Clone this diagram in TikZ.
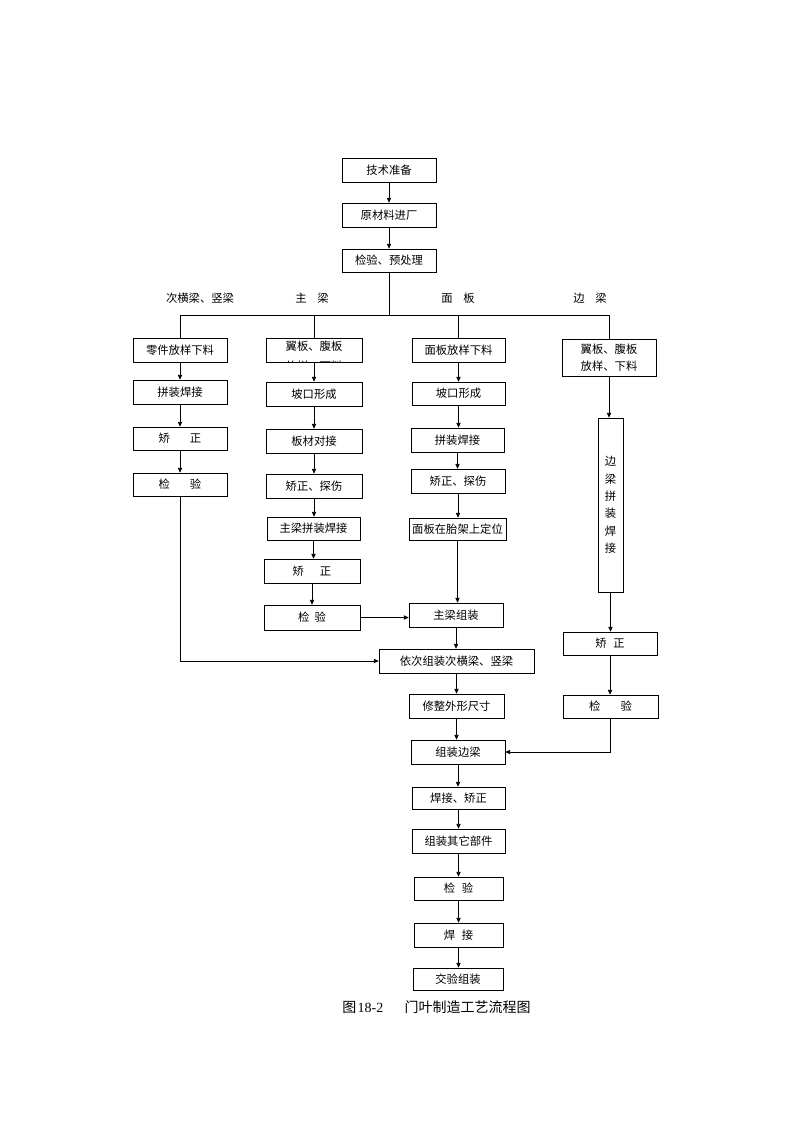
\documentclass[tikz,border=0pt]{standalone}
\usepackage{fontspec}
\setmainfont{Noto Sans CJK SC}
\newfontfamily\numfont{Liberation Serif}
\usetikzlibrary{fit,arrows.meta}
\tikzset{
  box/.style={draw=black, line width=0.6pt, inner sep=0pt, fill=white},
  lbl/.style={inner sep=0pt, font=\fontsize{8.5pt}{10pt}\selectfont},
  conn/.style={line width=0.6pt, draw=black},
  arr/.style={conn, -{Triangle[length=3.5pt,width=3.2pt]}}
}
\newcommand{\bx}[6]{\node[box, fit={(#2,#3) (#4,#5)}, label={[lbl]center:{#6}}] (#1) {};}
\begin{document}
\begin{tikzpicture}[x=0.75pt,y=-0.75pt]
\useasboundingbox (0,0) rectangle (794,1123);
% top column
\bx{t1}{342}{158}{436}{182}{技术准备}
\bx{t2}{342}{203}{436}{227}{原材料进厂}
\bx{t3}{342}{249}{436}{272}{检验、预处理}
% branch labels
\node[lbl] (l1) at (200,298) {次横梁、竖梁};
\node[lbl] (l2) at (312,298) {主\hspace{8pt}梁};
\node[lbl] (l3) at (458,298) {面\hspace{8pt}板};
\node[lbl] (l4) at (590,298) {边\hspace{8pt}梁};
% column 1
\bx{a1}{133}{338}{227}{362}{零件放样下料}
\bx{a2}{133}{380}{227}{404}{拼装焊接}
\bx{a3}{133}{427}{227}{450}{矫\hspace{15pt}正}
\bx{a4}{133}{473}{227}{496}{检\hspace{15pt}验}
% column 2
\node[box, fit={(266,338) (362,362)}] (b1) {};
\node[lbl] (b1t) at (314,346) {翼板、腹板};
\begin{scope}
\clip (266,338) rectangle (362,362);
\node[lbl] (b1u) at (314,366) {放样、下料};
\end{scope}
\bx{b2}{266}{382}{362}{406}{坡口形成}
\bx{b3}{266}{429}{362}{453}{板材对接}
\bx{b4}{266}{474}{362}{498}{矫正、探伤}
\bx{b5}{267}{517}{360}{540}{主梁拼装焊接}
\bx{b6}{264}{559}{360}{583}{矫\hspace{12pt}正}
\bx{b7}{264}{605}{360}{630}{检\hspace{4pt}验}
% column 3
\bx{c1}{412}{338}{505}{362}{面板放样下料}
\bx{c2}{412}{382}{505}{405}{坡口形成}
\bx{c3}{411}{428}{504}{452}{拼装焊接}
\bx{c4}{411}{469}{505}{493}{矫正、探伤}
\bx{c5}{409}{518}{506}{540}{面板在胎架上定位}
\bx{c6}{409}{603}{503}{627}{主梁组装}
% column 4
\node[box, fit={(562,339) (656,376)},
  label={[lbl, align=center, font=\fontsize{8.5pt}{13pt}\selectfont]center:{翼板、腹板\\放样、下料}}] (d1) {};
\node[box, fit={(598,418) (623,592)},
  label={[lbl, align=center, font=\fontsize{8.5pt}{13pt}\selectfont]center:{边\\梁\\拼\\装\\焊\\接}}] (d2) {};
\bx{d3}{563}{632}{657}{655}{矫\hspace{5pt}正}
\bx{d4}{563}{695}{658}{718}{检\hspace{15pt}验}
% main column
\bx{m1}{379}{649}{534}{673}{依次组装次横梁、竖梁}
\bx{m2}{409}{694}{504}{718}{修整外形尺寸}
\bx{m3}{411}{740}{505}{764}{组装边梁}
\bx{m4}{412}{787}{505}{809}{焊接、矫正}
\bx{m5}{412}{829}{505}{853}{组装其它部件}
\bx{m6}{414}{877}{503}{900}{检\hspace{5pt}验}
\bx{m7}{414}{923}{503}{947}{焊\hspace{5pt}接}
\bx{m8}{413}{968}{503}{990}{交验组装}
% caption
\node[inner sep=0pt, anchor=west, font=\fontsize{10.5pt}{12pt}\selectfont] (cap) at (342,1007)
  {图\hspace{1pt}{\numfont 18-2}\hspace{16pt}门叶制造工艺流程图};
% connectors: top
\draw[arr] (t1.south) -- (t1.south |- t2.north);
\draw[arr] (t2.south) -- (t2.south |- t3.north);
\coordinate (bar) at (389,315);
\draw[conn] (t3.south) -- (t3.south |- bar);
\draw[conn] (a1.north |- bar) -- (d1.north |- bar);
\draw[conn] (a1.north |- bar) -- (a1.north);
\draw[conn] (b1.north |- bar) -- (b1.north);
\draw[conn] (c1.north |- bar) -- (c1.north);
\draw[conn] (d1.north |- bar) -- (d1.north);
% column 1
\draw[arr] (a1.south) -- (a1.south |- a2.north);
\draw[arr] (a2.south) -- (a2.south |- a3.north);
\draw[arr] (a3.south) -- (a3.south |- a4.north);
\draw[arr] (a4.south) |- (m1.west);
% column 2
\draw[arr] (b1.south) -- (b1.south |- b2.north);
\draw[arr] (b2.south) -- (b2.south |- b3.north);
\draw[arr] (b3.south) -- (b3.south |- b4.north);
\draw[arr] (b4.south) -- (b4.south |- b5.north);
\draw[arr] (b5.south) -- (b5.south |- b6.north);
\draw[arr] (b6.south) -- (b6.south |- b7.north);
\draw[arr] (b7.east) -- (b7.east -| c6.west);
% column 3
\draw[arr] (c1.south) -- (c1.south |- c2.north);
\draw[arr] (c2.south) -- (c2.south |- c3.north);
\draw[arr] (c3.south) -- (c3.south |- c4.north);
\draw[arr] (c4.south) -- (c4.south |- c5.north);
\draw[arr] (c5.south) -- (c5.south |- c6.north);
\draw[arr] (c6.south) -- (c6.south |- m1.north);
% column 4
\draw[arr] (d1.south) -- (d1.south |- d2.north);
\draw[arr] (d2.south) -- (d2.south |- d3.north);
\draw[arr] (d3.south) -- (d3.south |- d4.north);
\draw[arr] (d4.south) |- (m3.east);
% main column
\draw[arr] (m1.south) -- (m1.south |- m2.north);
\draw[arr] (m2.south) -- (m2.south |- m3.north);
\draw[arr] (m3.south) -- (m3.south |- m4.north);
\draw[arr] (m4.south) -- (m4.south |- m5.north);
\draw[arr] (m5.south) -- (m5.south |- m6.north);
\draw[arr] (m6.south) -- (m6.south |- m7.north);
\draw[arr] (m7.south) -- (m7.south |- m8.north);
\end{tikzpicture}
\end{document}
